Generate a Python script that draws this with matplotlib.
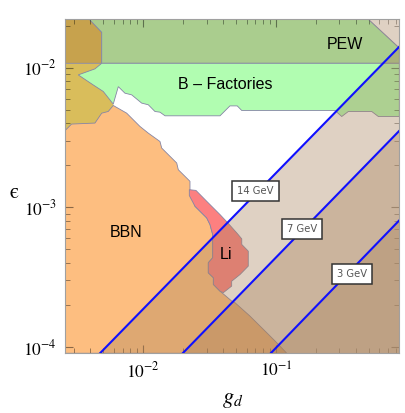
import numpy as np
import matplotlib
matplotlib.use("Agg")
import matplotlib.pyplot as plt
from matplotlib.ticker import LogLocator, FuncFormatter, NullFormatter

plt.rcParams['mathtext.fontset'] = 'stix'

# axis range, log10 values
xlim_log = [-2.588, -0.071]
ylim_log = [-4.045, -1.654]

# region outlines as (log10 g_d, log10 eps)
mustard_lg = [-2.6, -2.313, -2.313, -2.226, -2.226, -2.6]
mustard_le = [-1.969, -1.969, -2.15, -2.261, -2.45, -2.45]

pewdark_lg = [-2.6, -2.407, -2.313, -2.313, -2.6]
pewdark_le = [-1.65, -1.65, -1.747, -1.969, -1.969]

pew_lg = [-2.407, -0.304, -0.071, -0.071, -2.313, -2.313]
pew_le = [-1.654, -1.654, -1.859, -1.969, -1.969, -1.747]

corner_lg = [-0.304, -0.071, -0.071]
corner_le = [-1.654, -1.654, -1.859]

bfac_lg = [-2.313, -0.071, -0.071, -0.229, -0.279, -0.455, -0.505, -0.555,
           -1.258, -1.292, -1.347, -1.422, -1.836, -1.874, -1.912, -1.962,
           -2.012, -2.087, -2.138, -2.188, -2.226, -2.301, -2.377, -2.490, -2.364]
bfac_le = [-1.969, -1.969, -2.350, -2.350, -2.314, -2.314, -2.350, -2.307,
           -2.307, -2.274, -2.274, -2.345, -2.345, -2.319, -2.314, -2.266,
           -2.254, -2.195, -2.183, -2.136, -2.261, -2.171, -2.124, -2.052, -2.009]

bbn_lg = [-2.6, -2.6, -2.583, -2.540, -2.364, -2.313, -2.264, -2.226, -2.125,
          -2.025, -1.962, -1.874, -1.861, -1.748, -1.736, -1.648, -1.648, -1.610,
          -1.522, -1.497, -1.477, -1.477, -1.510, -1.510, -1.472, -1.472, -1.422,
          -1.334, -1.309, -1.196, -1.058, -0.995, -0.919]
bbn_le = [-4.045, -2.445, -2.445, -2.404, -2.397, -2.326, -2.314, -2.271, -2.326,
          -2.421, -2.469, -2.529, -2.576, -2.683, -2.731, -2.814, -2.879, -2.993,
          -3.076, -3.124, -3.195, -3.361, -3.397, -3.469, -3.504, -3.552, -3.600,
          -3.671, -3.683, -3.779, -3.909, -3.969, -4.045]

li_lg = [-1.653, -1.603, -1.522, -1.422, -1.359, -1.296, -1.258, -1.258, -1.209,
         -1.209, -1.271, -1.334, -1.334, -1.397, -1.422, -1.472, -1.472, -1.510,
         -1.510, -1.477, -1.477, -1.497, -1.522, -1.610, -1.653]
li_le = [-2.874, -2.879, -2.957, -3.052, -3.116, -3.183, -3.226, -3.266, -3.314,
         -3.421, -3.481, -3.529, -3.564, -3.611, -3.600, -3.552, -3.504, -3.469,
         -3.397, -3.361, -3.195, -3.124, -3.076, -2.993, -2.916]

# dark matter mass contours: end points (log10 g_d, log10 eps)
masses = ['14 GeV', '7 GeV', '3 GeV']
line_lg = [[-2.326, -0.071], [-1.703, -0.071], [-1.040, -0.071]]
line_le = [[-4.045, -1.850], [-4.045, -2.452], [-4.045, -3.093]]
label_lg = [-1.153, -0.802, -0.425]
label_le = [-2.881, -3.154, -3.474]

edge = '#8585a5'
tan = '#a8815a'

fig = plt.figure(figsize=(4.05, 4.13), dpi=100)
ax = fig.add_axes([0.161, 0.1446, 0.825, 0.8087])
ax.set_xscale('log')
ax.set_yscale('log')


def region(lg, le, color, alpha=1.0, lw=0.6, z=1):
    ax.fill(10 ** np.array(lg), 10 ** np.array(le), facecolor=color, alpha=alpha,
            edgecolor=edge, linewidth=lw, zorder=z)


region(mustard_lg, mustard_le, '#d9bd5b', lw=0)
region(pewdark_lg, pewdark_le, '#c7a24d')
region(pew_lg, pew_le, '#aacd8e')
region(bfac_lg, bfac_le, '#b1fdb1')
region(bbn_lg, bbn_le, '#fdbe80')
region(li_lg, li_le, '#fc8080')
region(corner_lg, corner_le, tan, alpha=0.36, z=2)

for i in range(len(masses)):
    xs = line_lg[i] + [xlim_log[1]]
    ys = line_le[i] + [ylim_log[0]]
    ax.fill(10 ** np.array(xs), 10 ** np.array(ys), facecolor=tan, alpha=0.36,
            linewidth=0, zorder=2)
    ax.plot(10 ** np.array(line_lg[i]), 10 ** np.array(line_le[i]),
            color='#1010ff', lw=1.5, zorder=3)
    ax.text(10 ** label_lg[i], 10 ** label_le[i], masses[i], fontsize=7.2,
            color='#555555', ha='center', va='center', zorder=5,
            bbox=dict(boxstyle='square,pad=0.5', facecolor='white',
                      edgecolor='#333333', linewidth=1.1))

txt = dict(fontsize=11.5, family='Liberation Sans', ha='center', va='center', zorder=4)
ax.text(10 ** -0.480, 10 ** -1.838, 'PEW', **txt)
ax.text(10 ** -1.384, 10 ** -2.124, 'B – Factories', **txt)
ax.text(10 ** -2.130, 10 ** -3.179, 'BBN', **txt)
ax.text(10 ** -1.377, 10 ** -3.338, 'Li', **txt)

ax.set_xlim(10 ** xlim_log[0], 10 ** xlim_log[1])
ax.set_ylim(10 ** ylim_log[0], 10 ** ylim_log[1])

fmt = FuncFormatter(lambda v, p: r'$10^{%d}$' % round(np.log10(v)))
for axis in (ax.xaxis, ax.yaxis):
    axis.set_major_locator(LogLocator(base=10))
    axis.set_minor_locator(LogLocator(base=10, subs=np.arange(2, 10)))
    axis.set_major_formatter(fmt)
    axis.set_minor_formatter(NullFormatter())

ax.tick_params(which='both', direction='in', top=True, right=True,
               color=(0, 0, 0, 0.45), labelsize=12.5)
ax.tick_params(which='major', length=6, width=0.8, pad=6)
ax.tick_params(which='minor', length=3.5, width=0.6)
for s in ax.spines.values():
    s.set_color('#a0a0a0')
    s.set_linewidth(0.8)

ax.set_xlabel(r'$g_d$', fontsize=16, labelpad=6)
ax.set_ylabel('\u03f5', fontsize=15, family='STIXGeneral', rotation=0,
              va='center', ha='center')
ax.yaxis.set_label_coords(-0.152, 0.48)

fig.savefig('out.png', dpi=100)
